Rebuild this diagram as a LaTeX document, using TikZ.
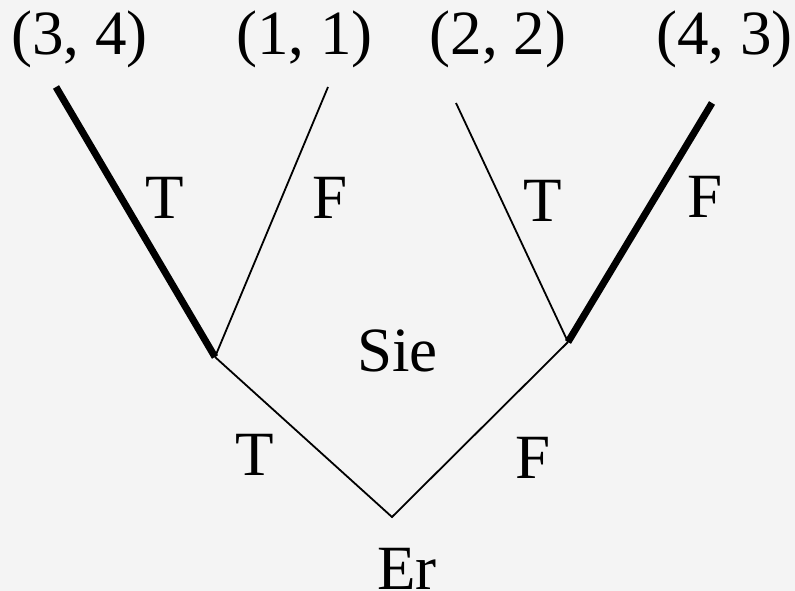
\documentclass[tikz,border=0pt]{standalone}
\usepackage{fontspec}
\setmainfont{Liberation Serif}
\definecolor{bgc}{HTML}{F4F4F4}
\begin{document}
\begin{tikzpicture}[x=1bp,y=-1bp,
  lbl/.style={inner sep=0pt, anchor=base, font=\fontsize{63bp}{70bp}\selectfont},
  thinedge/.style={draw=black, line width=1.8bp},
  thickedge/.style={draw=black, line width=7bp, line cap=butt}]
\fill[bgc] (0,0) rectangle (795,591);
\useasboundingbox (0,0) rectangle (795,591);
% vertices
\coordinate (root) at (392,517);
\coordinate (L) at (215,357);
\coordinate (R) at (568,342);
\coordinate (LL) at (56,87);
\coordinate (LR) at (328,87);
\coordinate (RL) at (456,103);
\coordinate (RR) at (712,103);
% edges
\draw[thinedge] (L) -- (root) -- (R);
\draw[thinedge] (L) -- (LR);
\draw[thinedge] (R) -- (RL);
\draw[thickedge] (L) -- (LL);
\draw[thickedge] (R) -- (RR);
% payoffs
\node[lbl] (p34) at (79.5,55) {(3, 4)};
\node[lbl] (p11) at (304.5,55) {(1, 1)};
\node[lbl] (p22) at (498,55) {(2, 2)};
\node[lbl] (p43) at (724.5,55) {(4, 3)};
% edge labels
\node[lbl] (t1) at (165,219) {T};
\node[lbl] (f1) at (330,219) {F};
\node[lbl] (t2) at (543,222) {T};
\node[lbl] (f2) at (705,218) {F};
\node[lbl] (t0) at (254.5,475) {T};
\node[lbl] (f0) at (533,478) {F};
% players
\node[lbl] (sie) at (397.5,371) {Sie};
\node[lbl] (er) at (407,589) {Er};
\end{tikzpicture}
\end{document}
